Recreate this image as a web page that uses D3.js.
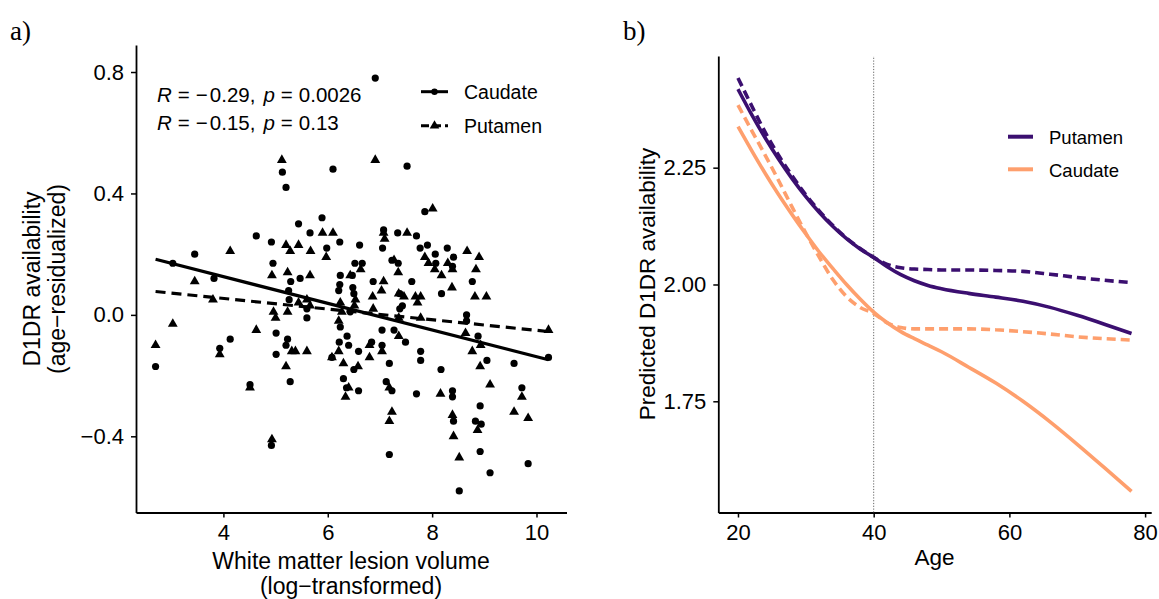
<!DOCTYPE html>
<html>
<head>
<meta charset="utf-8">
<script src="https://cdn.jsdelivr.net/npm/d3@7"></script>
<style>
  body { margin: 0; background: #fff; }
  svg { display: block; font-family: "Liberation Sans", Arial, sans-serif; }
</style>
</head>
<body>
<div id="chart"></div>
<script>
// ---- panel a data (lesion volume vs age-residualized D1DR)
const caudateX = [2.70,3.03,3.45,3.82,3.93,4.13,4.51,4.63,4.92,4.92,
  4.95,5.01,5.01,5.13,5.20,5.23,5.20,5.25,5.26,5.29,
  5.28,5.44,5.47,5.60,5.60,5.66,5.89,5.98,6.10,6.08,
  6.23,6.24,6.23,6.21,6.24,6.22,6.30,6.36,6.37,6.40,
  6.43,6.48,6.50,6.52,6.61,6.66,6.59,6.50,6.59,6.47,
  6.84,6.87,6.91,7.04,7.04,7.05,7.07,7.12,7.18,7.18,
  7.23,7.23,7.27,7.34,7.35,7.38,7.43,7.38,7.49,7.52,
  7.61,7.70,7.70,7.77,7.78,7.78,7.86,7.91,8.06,8.17,
  8.18,8.29,8.39,8.39,8.41,8.41,8.52,8.66,8.66,8.77,
  8.88,8.83,8.92,8.94,8.92,9.05,9.11,9.57,9.72,9.84,
  10.23,8.07,8.39];
const caudateY = [-0.17,0.17,0.20,0.12,-0.11,-0.08,-0.23,0.26,0.24,-0.43,
  0.17,-0.13,-0.06,0.47,0.42,-0.08,-0.10,0.08,0.05,0.11,
  -0.22,0.30,0.12,0.02,-0.01,0.27,0.32,0.22,0.48,-0.14,
  0.24,0.13,0.10,0.08,-0.04,-0.09,-0.21,-0.24,-0.07,-0.10,
  0.01,0.09,0.07,0.17,0.23,0.17,-0.12,-0.18,-0.25,0.13,
  -0.09,0.11,0.78,-0.05,-0.10,0.22,0.28,-0.22,-0.16,-0.46,
  -0.25,0.18,-0.05,0.27,0.17,0.07,0.03,0.02,-0.09,0.49,
  0.11,0.26,-0.26,0.22,-0.12,-0.15,0.34,0.23,0.20,-0.18,
  0.07,0.22,-0.25,-0.27,-0.35,0.19,-0.58,0.00,-0.02,0.11,
  -0.07,-0.35,-0.30,-0.36,-0.45,-0.15,-0.52,-0.16,-0.24,-0.49,
  -0.14,0.17,0.16];
const putamenX = [2.70,3.03,3.45,3.80,3.93,4.13,4.51,4.63,4.93,4.93,
  4.96,5.00,5.12,5.20,5.23,5.23,5.28,5.44,5.31,5.38,
  5.20,5.44,5.60,5.66,5.66,5.67,5.60,5.90,6.10,5.97,
  6.08,6.21,6.24,6.27,6.21,6.30,6.34,6.40,6.43,6.53,
  6.51,6.58,6.63,6.80,6.80,6.86,6.87,6.91,7.03,7.07,
  7.04,7.07,7.09,7.18,7.23,7.18,7.27,7.35,7.36,7.46,
  7.36,7.36,7.52,7.68,7.78,7.72,7.78,7.86,7.93,8.01,
  8.05,8.18,8.16,8.30,8.39,8.38,8.39,8.41,8.52,8.64,
  8.67,8.84,8.82,8.90,8.92,8.77,8.93,8.87,9.04,9.11,
  9.57,9.72,9.84,10.23];
const putamenY = [-0.10,-0.03,0.11,0.05,-0.13,0.21,-0.24,-0.05,-0.41,0.13,
  0.01,-0.01,0.51,0.23,0.14,0.01,0.21,0.23,-0.12,-0.12,
  -0.17,0.04,0.05,0.03,0.13,0.21,-0.12,0.27,0.27,0.19,
  -0.14,-0.02,0.04,0.01,-0.12,-0.16,-0.27,-0.24,0.13,0.05,
  0.03,-0.17,0.15,-0.10,-0.14,0.06,0.02,0.51,0.08,0.11,
  -0.12,0.27,0.25,-0.24,-0.32,-0.35,0.18,0.14,0.07,0.06,
  -0.01,-0.07,0.27,0.06,0.06,0.04,-0.01,0.19,0.17,0.35,
  0.15,0.13,-0.26,0.17,0.15,0.09,-0.33,-0.40,-0.47,-0.06,
  0.21,0.15,0.06,0.19,-0.17,-0.12,-0.10,-0.38,0.06,-0.23,
  -0.32,-0.27,-0.34,-0.05];
// linear fits (end points of the drawn lm lines)
const fitX = [2.70, 10.23];
const caudateFit = [0.183, -0.148];
const putamenFit = [0.077, -0.055];
const statR = ['0.29', '0.15'];   // both negative
const statP = ['0.0026', '0.13'];
const xTicksA = [4, 6, 8, 10];
const yTicksA = [-0.4, 0.0, 0.4, 0.8];

// ---- panel b data (predicted D1DR by age)
const ages = [20,22,24,26,28,30,32,34,36,38,40,42,44,46,48,50,54,58,62,66,70,74,78];
const putamenSolid  = [2.418,2.364,2.314,2.268,2.226,2.188,2.154,2.124,2.098,2.076,2.058,2.038,2.021,2.008,1.998,1.991,1.981,1.973,1.964,1.951,1.934,1.915,1.895];
const putamenDashed = [2.442,2.383,2.326,2.276,2.232,2.192,2.157,2.126,2.099,2.077,2.058,2.043,2.036,2.033,2.032,2.031,2.031,2.030,2.028,2.022,2.015,2.009,2.004];
const caudateSolid  = [2.338,2.287,2.238,2.192,2.149,2.108,2.069,2.034,2.000,1.969,1.941,1.918,1.899,1.884,1.870,1.856,1.823,1.789,1.750,1.706,1.658,1.608,1.557];
const caudateDashed = [2.384,2.330,2.277,2.222,2.165,2.110,2.058,2.010,1.974,1.951,1.938,1.918,1.908,1.905,1.905,1.905,1.905,1.903,1.899,1.894,1.888,1.884,1.881];
const xTicksB = [20, 40, 60, 80];
const yTicksB = [1.75, 2.00, 2.25];
const cutAge = 40;
const legendB = ['Putamen', 'Caudate'];

const purple = '#3B0F70', orange = '#FE9F6D';

const svg = d3.select('#chart').append('svg')
    .attr('width', 1159)
    .attr('height', 599);

function styleAxis(g) {
    g.select('.domain').attr('stroke', '#000').attr('stroke-width', 1.8);
    g.selectAll('.tick line').attr('stroke', '#000').attr('stroke-width', 1.5);
    g.selectAll('.tick text').attr('fill', '#000')
        .style('font-size', '22px')
        .style('font-family', '"Liberation Sans", Arial, sans-serif');
}

// ================= panel a =================
const xA = d3.scaleLinear().domain([2.325, 10.575]).range([136, 566.5]);
const yA = d3.scaleLinear().domain([-0.651, 0.889]).range([512.5, 45]);

svg.append('g')
    .attr('transform', 'translate(0,512.5)')
    .call(d3.axisBottom(xA).tickValues(xTicksA).tickSize(5).tickSizeOuter(0).tickPadding(7).tickFormat(d3.format('d')))
    .call(styleAxis);

svg.append('g')
    .attr('transform', 'translate(136,0)')
    .call(d3.axisLeft(yA).tickValues(yTicksA).tickSize(5).tickSizeOuter(0).tickPadding(7).tickFormat(d3.format('.1f')))
    .call(styleAxis);

const gA = svg.append('g');

gA.selectAll('.cau').data(caudateX).enter().append('circle')
    .attr('class', 'cau')
    .attr('cx', d => xA(d))
    .attr('cy', (d, i) => yA(caudateY[i]))
    .attr('r', 3.6)
    .attr('fill', '#000');

const tri = d3.symbol().type(d3.symbolTriangle).size(42);
gA.selectAll('.put').data(putamenX).enter().append('path')
    .attr('class', 'put')
    .attr('d', tri)
    .attr('transform', (d, i) => 'translate(' + xA(d) + ',' + yA(putamenY[i]) + ')')
    .attr('fill', '#000');

gA.append('line')
    .attr('x1', xA(fitX[0])).attr('x2', xA(fitX[1]))
    .attr('y1', yA(caudateFit[0])).attr('y2', yA(caudateFit[1]))
    .attr('stroke', '#000').attr('stroke-width', 3.2);
gA.append('line')
    .attr('x1', xA(fitX[0])).attr('x2', xA(fitX[1]))
    .attr('y1', yA(putamenFit[0])).attr('y2', yA(putamenFit[1]))
    .attr('stroke', '#000').attr('stroke-width', 3.2)
    .attr('stroke-dasharray', '10,6');

// correlation labels, spaced like plotmath
statR.forEach((r, i) => {
    const t = svg.append('text')
        .attr('x', 157).attr('y', 102 + i * 28)
        .style('font-size', '20.5px');
    t.append('tspan').style('font-style', 'italic').text('R');
    t.append('tspan').attr('dx', 6).text('=');
    t.append('tspan').attr('dx', 6).text('\u2212');
    t.append('tspan').attr('dx', 2).text(r + ',');
    t.append('tspan').attr('dx', 8).style('font-style', 'italic').text('p');
    t.append('tspan').attr('dx', 6).text('=');
    t.append('tspan').attr('dx', 6).text(statP[i]);
});

// legend a
const legA = svg.append('g');
[['Caudate', null], ['Putamen', '8,4']].forEach((d, i) => {
    const y = 91.7 + i * 34;
    legA.append('line')
        .attr('x1', 421).attr('x2', 448).attr('y1', y).attr('y2', y)
        .attr('stroke', '#000').attr('stroke-width', 3)
        .attr('stroke-dasharray', d[1]);
    if (i === 0) {
        legA.append('circle').attr('cx', 434.5).attr('cy', y).attr('r', 3.2);
    } else {
        legA.append('path').attr('d', d3.symbol().type(d3.symbolTriangle).size(40))
            .attr('transform', 'translate(434.5,' + y + ')');
    }
    legA.append('text')
        .attr('x', 464).attr('y', y + 7)
        .style('font-size', '19.5px')
        .text(d[0]);
});

// axis titles a
svg.append('text').attr('x', 351).attr('y', 569).attr('text-anchor', 'middle')
    .style('font-size', '23px').text('White matter lesion volume');
svg.append('text').attr('x', 351).attr('y', 594).attr('text-anchor', 'middle')
    .style('font-size', '23px').text('(log\u2212transformed)');
svg.append('text').attr('transform', 'translate(40,279) rotate(-90)').attr('text-anchor', 'middle')
    .style('font-size', '23px').text('D1DR availability');
svg.append('text').attr('transform', 'translate(65,279) rotate(-90)').attr('text-anchor', 'middle')
    .style('font-size', '23px').text('(age\u2212residualized)');

// ================= panel b =================
const xB = d3.scaleLinear().domain([17.1, 80.9]).range([718.3, 1151.2]);
const yB = d3.scaleLinear().domain([1.512, 2.489]).range([512.5, 56]);

svg.append('g')
    .attr('transform', 'translate(0,512.5)')
    .call(d3.axisBottom(xB).tickValues(xTicksB).tickSize(5).tickSizeOuter(0).tickPadding(7).tickFormat(d3.format('d')))
    .call(styleAxis);

svg.append('g')
    .attr('transform', 'translate(718.3,0)')
    .call(d3.axisLeft(yB).tickValues(yTicksB).tickSize(5).tickSizeOuter(0).tickPadding(7).tickFormat(d3.format('.2f')))
    .call(styleAxis);

svg.append('line')
    .attr('x1', xB(cutAge)).attr('x2', xB(cutAge))
    .attr('y1', yB.range()[0]).attr('y2', yB.range()[1])
    .attr('stroke', '#555').attr('stroke-width', 0.9)
    .attr('stroke-dasharray', '1.2,1.6');

const line = d3.line()
    .x((d, i) => xB(ages[i]))
    .y(d => yB(d))
    .curve(d3.curveMonotoneX);

const curves = [
    [caudateDashed, orange, '9,5'],
    [putamenDashed, purple, '9,5'],
    [caudateSolid, orange, null],
    [putamenSolid, purple, null]
];
curves.forEach(c => {
    svg.append('path')
        .datum(c[0])
        .attr('d', line)
        .attr('fill', 'none')
        .attr('stroke', c[1])
        .attr('stroke-width', 3.6)
        .attr('stroke-dasharray', c[2]);
});

// legend b
legendB.forEach((name, i) => {
    const y = 136.7 + i * 32.6;
    svg.append('line')
        .attr('x1', 1008).attr('x2', 1033).attr('y1', y).attr('y2', y)
        .attr('stroke', i === 0 ? purple : orange).attr('stroke-width', 4);
    svg.append('text').attr('x', 1049).attr('y', y + 7.5)
        .style('font-size', '18.5px').text(name);
});

svg.append('text').attr('x', 934.5).attr('y', 565).attr('text-anchor', 'middle')
    .style('font-size', '22.5px').text('Age');
svg.append('text').attr('transform', 'translate(655,284) rotate(-90)').attr('text-anchor', 'middle')
    .style('font-size', '22.5px').text('Predicted D1DR availability');

// panel letters
svg.append('text').attr('x', 10).attr('y', 40)
    .style('font-family', '"Liberation Serif", "Times New Roman", serif').style('font-size', '27px').text('a)');
svg.append('text').attr('x', 623).attr('y', 40)
    .style('font-family', '"Liberation Serif", "Times New Roman", serif').style('font-size', '27px').text('b)');
</script>
</body>
</html>
